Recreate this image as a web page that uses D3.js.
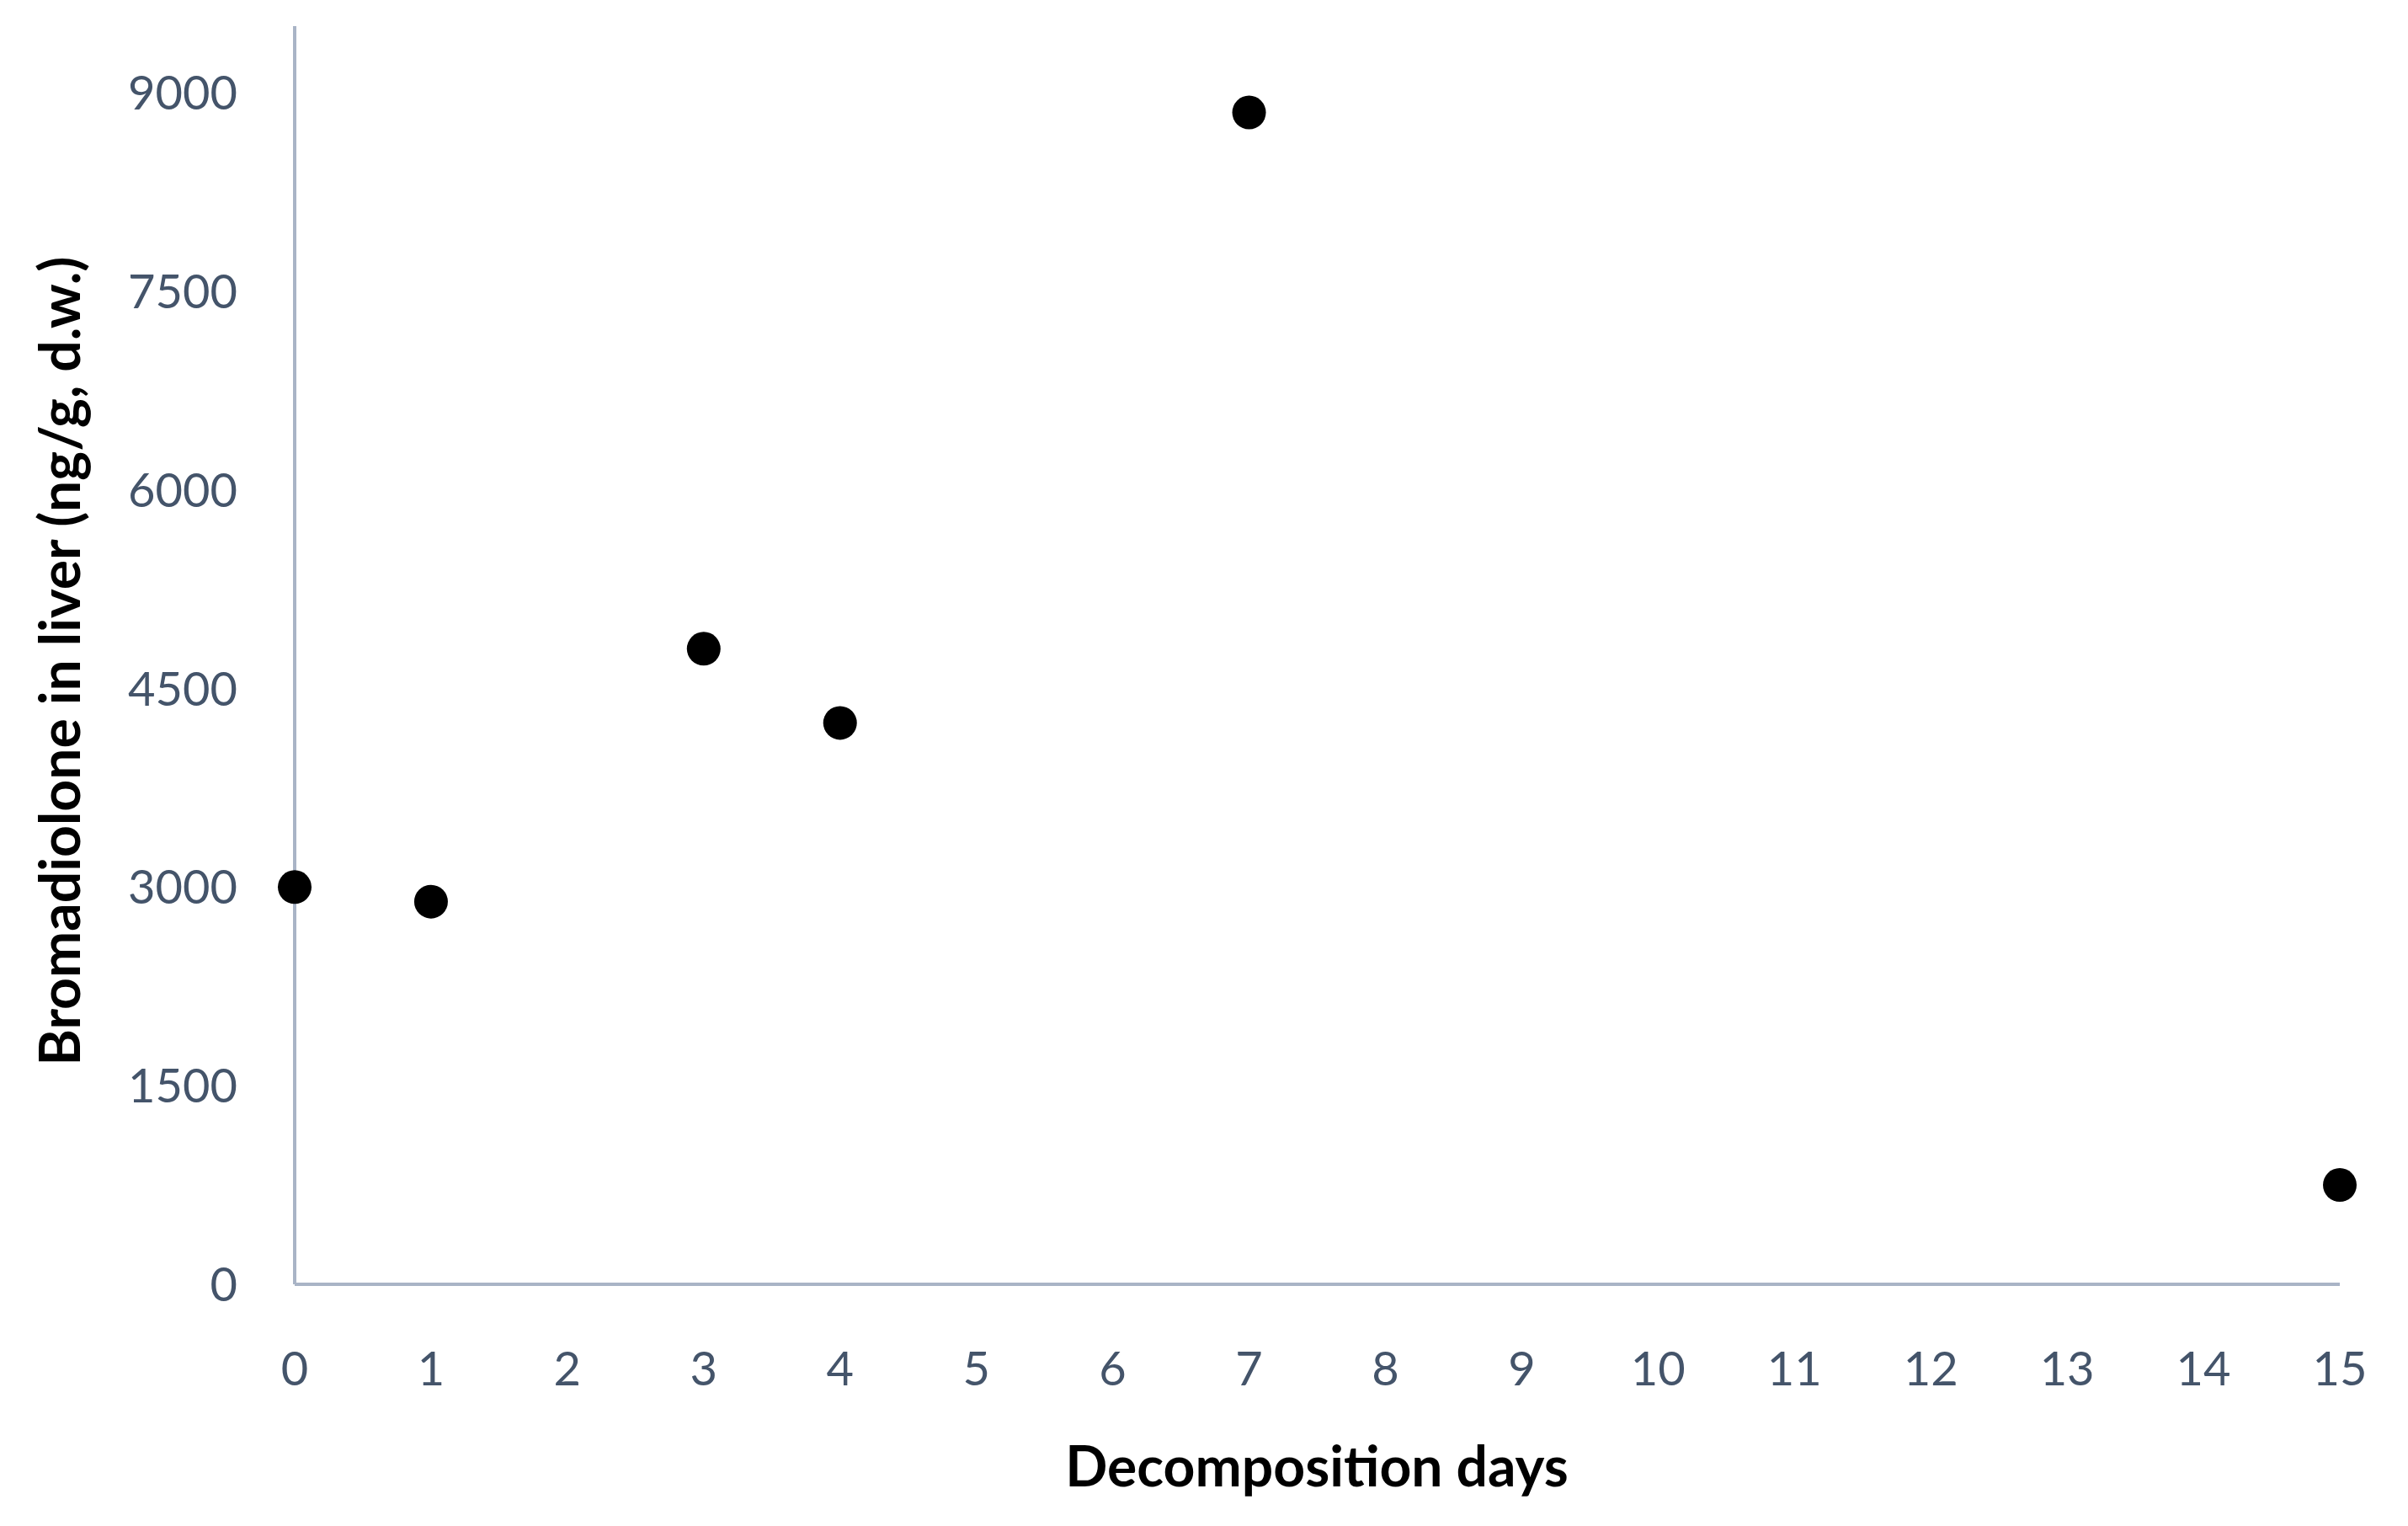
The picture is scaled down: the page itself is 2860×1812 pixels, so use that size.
<!DOCTYPE html>
<html><head><meta charset="utf-8">
<script src="https://cdn.jsdelivr.net/npm/d3@7/dist/d3.min.js"></script>
<style>body{margin:0;background:#fff}</style></head>
<body><svg id="c" width="2860" height="1812"></svg>
<script>
const days = [0, 1, 3, 4, 7, 15];
const values = [3000, 2890, 4800, 4240, 8850, 750];
const xTicks = d3.range(0, 16);
const yTicks = [0, 1500, 3000, 4500, 6000, 7500, 9000];
const xTitle = "Decomposition days";
const yTitle = "Bromadiolone in liver (ng/g, d.w.)";

const svg = d3.select("#c");
const font = "Lato, 'Open Sans', sans-serif";
const x = d3.scaleLinear().domain([0, 15]).range([350, 2779]);
const y = d3.scaleLinear().domain([0, 9000]).range([1525, 110]);
const axisCol = "#A9B4C6", tickCol = "#44546A";

svg.append("line").attr("x1", x(0)).attr("x2", x(0)).attr("y1", 31).attr("y2", y(0))
  .attr("stroke", axisCol).attr("stroke-width", 4);
svg.append("line").attr("x1", x(0)).attr("x2", x(15)).attr("y1", y(0)).attr("y2", y(0))
  .attr("stroke", axisCol).attr("stroke-width", 4);

svg.selectAll(".xt").data(xTicks).join("text").attr("x", d => x(d)).attr("y", 1645)
  .attr("text-anchor", "middle").attr("font-family", font).attr("font-size", 56)
  .attr("fill", tickCol).text(d => d);
svg.selectAll(".yt").data(yTicks).join("text").attr("x", 282).attr("y", d => y(d) + 20)
  .attr("text-anchor", "end").attr("font-family", font).attr("font-size", 56)
  .attr("fill", tickCol).text(d => d);

svg.append("text").attr("x", 1564).attr("y", 1765).attr("text-anchor", "middle")
  .attr("font-family", font).attr("font-weight", "bold").attr("font-size", 66).text(xTitle);
svg.append("text").attr("transform", "translate(95,785) rotate(-90)").attr("text-anchor", "middle")
  .attr("font-family", font).attr("font-weight", "bold").attr("font-size", 66).text(yTitle);

svg.selectAll(".pt").data(days).join("circle").attr("cx", d => x(d))
  .attr("cy", (d, i) => y(values[i])).attr("r", 20).attr("fill", "#000");
</script></body></html>
